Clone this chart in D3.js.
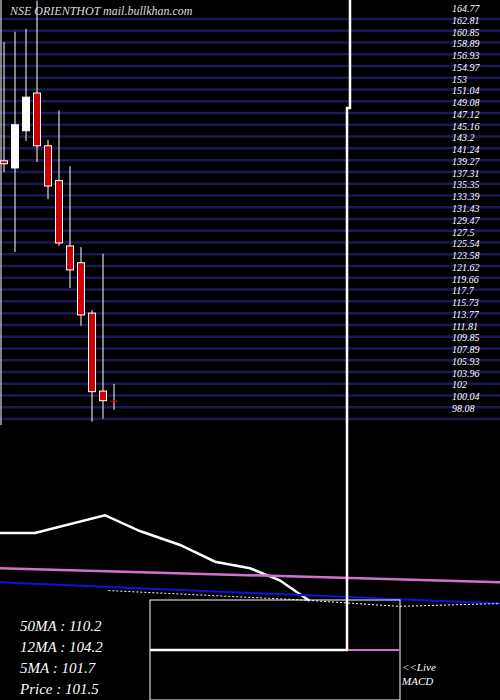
<!DOCTYPE html>
<html><head><meta charset="utf-8">
<script src="https://cdn.jsdelivr.net/npm/d3@7"></script>
<style>body{margin:0;background:#000}svg{display:block}</style>
</head><body>
<script>
var opens  = [139.3, 138.1, 144.3, 150.6, 141.8, 136.0, 125.1, 122.3, 113.9, 100.9, 99.3];
var closes = [138.8, 145.3, 149.9, 141.8, 135.1, 125.6, 121.1, 113.6, 100.8, 99.3, 99.2];
var highs  = [159.1, 160.8, 161.3, 166.0, 142.8, 147.7, 138.4, 124.9, 114.4, 123.8, 102.1];
var lows   = [137.4, 124.1, 142.6, 139.1, 132.9, 125.1, 118.1, 111.8, 95.8, 96.3, 97.8];
var priceTicks = [164.77,162.81,160.85,158.89,156.93,154.97,153,151.04,149.08,147.12,145.16,143.2,141.24,139.27,137.31,135.35,133.39,131.43,129.47,127.5,125.54,123.58,121.62,119.66,117.7,115.73,113.77,111.81,109.85,107.89,105.93,103.96,102,100.04,98.08];
// lower panel series (index positions 0..14.3 across width)
var macdX = [0, 1, 3, 4, 5.15, 6.15, 7.15, 8, 8.85];
var macdY = [-3.0, -3.0, -1.1, -2.8, -4.3, -6.1, -6.8, -8.1, -10.3];
var pinkY = [-6.8, -8.3];
var blueY = [-8.3, -10.6];
var dotX = [3.1, 8.6, 11.4, 14.3];
var dotY = [-9.2, -10.2, -10.9, -10.6];
var labels = ["50MA : 110.2", "12MA : 104.2", "5MA : 101.7", "Price   : 101.5"];

var W = 500, H = 700;
var svg = d3.select("body").append("svg").attr("width", W).attr("height", H);
svg.append("rect").attr("width", W).attr("height", H).attr("fill", "black");

var y = d3.scaleLinear().domain([164.77, 98.08]).range([8, 408]);
var x = d3.scaleLinear().domain([0, 10]).range([4, 114]);

// grid lines
svg.selectAll("line.grid").data(priceTicks).enter().append("line")
    .attr("x1", 0).attr("x2", W)
    .attr("y1", function (d) { return y(d) + 11; }).attr("y2", function (d) { return y(d) + 11; })
    .attr("stroke", "#1a1a5a").attr("stroke-width", 2.5);
svg.append("line").attr("x1", 1).attr("x2", 1).attr("y1", 0).attr("y2", 425).attr("stroke", "white");

svg.selectAll("text.tick").data(priceTicks).enter().append("text")
    .attr("x", 452).attr("y", function (d) { return y(d) + 4; })
    .attr("fill", "white").attr("font-family", "Liberation Serif").attr("font-style", "italic")
    .attr("font-size", 10).text(function (d) { return d; });

svg.append("text").attr("x", 10).attr("y", 15).attr("fill", "#ddd")
    .attr("font-family", "Liberation Serif").attr("font-style", "italic").attr("font-size", 12)
    .text("NSE ORIENTHOT mail.bullkhan.com");

// candles
var idx = d3.range(opens.length);
svg.selectAll("line.wick").data(idx).enter().append("line")
    .attr("x1", function (i) { return x(i); }).attr("x2", function (i) { return x(i); })
    .attr("y1", function (i) { return y(highs[i]); }).attr("y2", function (i) { return y(lows[i]); })
    .attr("stroke", "white");
svg.selectAll("rect.body").data(idx).enter().append("rect")
    .attr("x", function (i) { return x(i) - 3.5; }).attr("width", 7)
    .attr("y", function (i) { return y(Math.max(opens[i], closes[i])); })
    .attr("height", function (i) { return Math.max(1.5, Math.abs(y(opens[i]) - y(closes[i]))); })
    .attr("fill", function (i) { return closes[i] >= opens[i] ? "white" : "#cc0000"; })
    .attr("stroke", "white").attr("stroke-width", function (i) { return i === 10 ? 0 : 1; });

// lower panel
var lx = d3.scaleLinear().domain([0, 14.3]).range([0, 500]);
var ly = d3.scaleLinear().domain([0, -10]).range([505, 598]);
svg.append("path").attr("d", d3.line().x(function (d, i) { return lx(macdX[i]); }).y(function (d) { return ly(d); })(macdY))
    .attr("fill", "none").attr("stroke", "white").attr("stroke-width", 2.5);
svg.append("path").attr("d", d3.line().x(function (d, i) { return lx(i * 14.3); }).y(function (d) { return ly(d); })(pinkY))
    .attr("fill", "none").attr("stroke", "#d070d0").attr("stroke-width", 2.5);
svg.append("path").attr("d", d3.line().x(function (d, i) { return lx(i * 14.3); }).y(function (d) { return ly(d); })(blueY))
    .attr("fill", "none").attr("stroke", "#1010e0").attr("stroke-width", 2);
svg.append("path").attr("d", d3.line().x(function (d, i) { return lx(dotX[i]); }).y(function (d) { return ly(d); })(dotY))
    .attr("fill", "none").attr("stroke", "white").attr("stroke-width", 1).attr("stroke-dasharray", "2,2");

// big vertical line
svg.append("polyline").attr("points", "350,0 350,108 347,108 347,650 150,650")
    .attr("fill", "none").attr("stroke", "white").attr("stroke-width", 2.5);
svg.append("rect").attr("x", 150).attr("y", 600).attr("width", 250).attr("height", 100)
    .attr("fill", "none").attr("stroke", "white").attr("stroke-width", 1);
svg.append("line").attr("x1", 348).attr("x2", 400).attr("y1", 650).attr("y2", 650)
    .attr("stroke", "#d070d0").attr("stroke-width", 2);

svg.selectAll("text.lab").data(labels).enter().append("text")
    .attr("x", 20).attr("y", function (d, i) { return 631 + i * 21; })
    .attr("fill", "white").attr("font-family", "Liberation Serif").attr("font-style", "italic")
    .attr("font-size", 15).text(function (d) { return d; });
svg.append("text").attr("x", 402).attr("y", 671).attr("fill", "white")
    .attr("font-family", "Liberation Serif").attr("font-style", "italic").attr("font-size", 11).text("<<Live");
svg.append("text").attr("x", 402).attr("y", 685).attr("fill", "white")
    .attr("font-family", "Liberation Serif").attr("font-style", "italic").attr("font-size", 11).text("MACD");
</script>
</body></html>
